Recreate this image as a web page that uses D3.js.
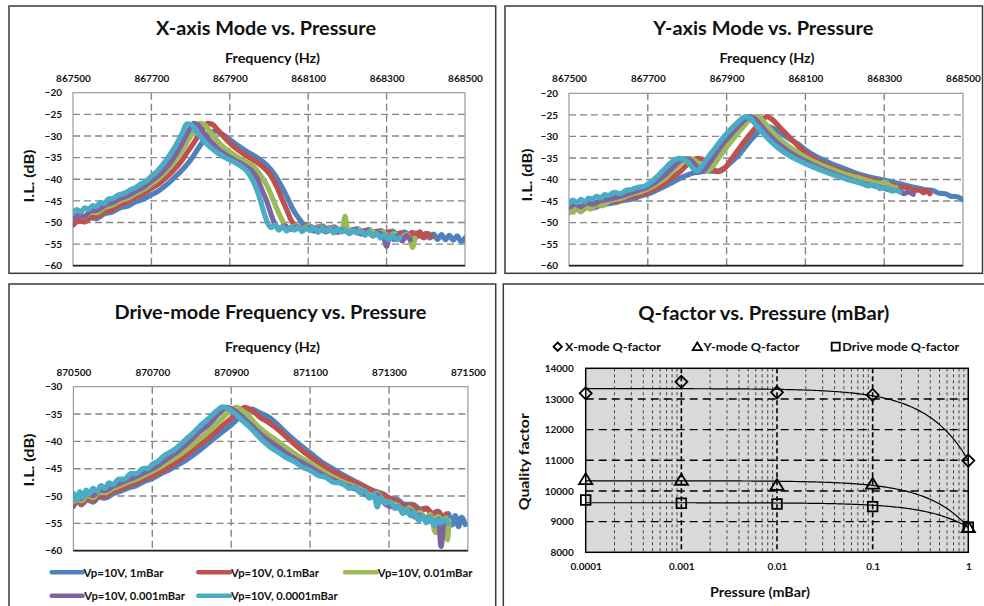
<!DOCTYPE html>
<html>
<head>
<meta charset="utf-8">
<script src="https://cdn.jsdelivr.net/npm/d3@7"></script>
<style>
  html, body { margin: 0; padding: 0; background: #ffffff; }
  svg { display: block; }
</style>
</head>
<body>
<svg id="fig" width="984" height="606"></svg>
<script>
// ---------------------------------------------------------------
// Series / labels shared by the three spectrum panels
// ---------------------------------------------------------------
const seriesNames  = ["Vp=10V, 1mBar", "Vp=10V, 0.1mBar", "Vp=10V, 0.01mBar", "Vp=10V, 0.001mBar", "Vp=10V, 0.0001mBar"];
const seriesColors = ["#4F81BD", "#C0504D", "#9BBB59", "#8064A2", "#4BACC6"];

const freqTicksXY    = [867500, 867700, 867900, 868100, 868300, 868500];
const freqTicksDrive = [870500, 870700, 870900, 871100, 871300, 871500];
const dbTicksXY      = [-20, -25, -30, -35, -40, -45, -50, -55, -60];
const dbTicksDrive   = [-30, -35, -40, -45, -50, -55, -60];

// ---------------------------------------------------------------
// X-axis mode sweeps: [frequency (Hz), insertion loss (dB)]
// ---------------------------------------------------------------
const xMode1mBar = [[867500,-50.0],[867515,-49.2],[867530,-49.8],[867545,-48.9],[867560,-49.1],[867580,-48.0],[867600,-47.6],[867620,-46.6],[867640,-46.2],[867660,-45.2],[867680,-44.6],[867700,-43.6],[867715,-42.9],[867730,-41.9],[867745,-40.8],[867760,-39.5],[867775,-38.2],[867790,-36.7],[867805,-34.9],[867820,-32.8],[867835,-30.8],[867848,-29.4],[867860,-28.9],[867875,-29.3],[867895,-30.5],[867920,-32.2],[867945,-33.7],[867970,-35.0],[867995,-36.8],[868015,-39.0],[868037,-42.5],[868050,-44.9],[868062,-47.1],[868079,-49.4],[868092,-50.8],[868105,-50.9],[868120,-51.5],[868135,-50.8],[868150,-51.6],[868165,-51.0],[868180,-51.8],[868195,-51.2],[868210,-52.1],[868225,-51.4],[868240,-52.3],[868255,-51.6],[868270,-52.6],[868285,-51.9],[868300,-52.5],[868315,-52.0],[868330,-52.9],[868345,-52.2],[868360,-53.1],[868375,-52.4],[868390,-53.3],[868400,-52.5],[868410,-53.6],[868420,-52.7],[868430,-53.9],[868440,-52.8],[868450,-54.0],[868460,-53.0],[868470,-54.1],[868480,-53.1],[868490,-54.4],[868500,-53.6]];
const xMode01mBar = [[867500,-50.6],[867515,-49.7],[867530,-49.9],[867545,-48.8],[867560,-48.6],[867580,-47.6],[867600,-47.0],[867620,-45.9],[867640,-45.2],[867660,-44.1],[867680,-43.3],[867700,-42.1],[867715,-41.3],[867730,-40.2],[867745,-39.0],[867760,-37.6],[867775,-36.0],[867790,-34.0],[867805,-32.0],[867820,-29.9],[867832,-28.3],[867843,-27.1],[867855,-27.3],[867870,-28.7],[867895,-31.2],[867920,-33.2],[867945,-34.7],[867968,-36.0],[867990,-37.6],[868005,-39.2],[868020,-41.8],[868034,-44.8],[868045,-47.0],[868055,-49.2],[868065,-50.6],[868080,-51.4],[868095,-50.8],[868110,-51.6],[868125,-51.0],[868140,-51.9],[868155,-51.2],[868170,-52.0],[868185,-51.4],[868200,-52.2],[868215,-51.6],[868230,-52.4],[868245,-51.8],[868260,-52.7],[868275,-52.0],[868290,-52.9],[868305,-52.2],[868320,-53.1],[868335,-52.4],[868350,-53.2],[868365,-52.3],[868375,-53.5],[868385,-52.2],[868395,-53.6],[868405,-52.6],[868415,-53.3]];
const xMode001mBar = [[867500,-49.1],[867515,-48.2],[867530,-48.7],[867545,-47.6],[867560,-47.8],[867580,-46.6],[867600,-46.0],[867620,-45.0],[867640,-44.4],[867660,-43.3],[867680,-42.4],[867700,-41.1],[867715,-40.1],[867730,-38.9],[867745,-37.4],[867760,-35.7],[867775,-33.8],[867790,-31.6],[867803,-29.6],[867814,-28.0],[867824,-27.1],[867834,-27.3],[867850,-29.1],[867875,-31.8],[867900,-33.7],[867925,-35.2],[867950,-36.4],[867968,-37.8],[867982,-39.6],[867995,-41.5],[868008,-44.2],[868020,-46.8],[868032,-49.2],[868042,-50.8],[868055,-51.3],[868070,-50.7],[868085,-51.5],[868100,-50.9],[868115,-51.7],[868130,-51.1],[868145,-51.9],[868160,-51.2],[868175,-52.1],[868188,-51.3],[868194,-48.6],[868200,-51.5],[868215,-52.2],[868230,-51.7],[868245,-52.5],[868260,-51.9],[868275,-52.8],[868290,-52.2],[868305,-53.2],[868320,-52.6],[868335,-53.5],[868350,-52.8],[868360,-53.9],[868366,-55.8],[868372,-53.6]];
const xMode0001mBar = [[867500,-49.4],[867515,-48.3],[867530,-48.6],[867545,-47.3],[867560,-47.2],[867580,-46.1],[867600,-45.4],[867620,-44.5],[867640,-43.8],[867660,-42.8],[867680,-41.8],[867700,-40.4],[867715,-39.4],[867730,-38.1],[867745,-36.5],[867760,-34.6],[867773,-32.6],[867786,-30.3],[867798,-28.3],[867808,-27.1],[867818,-27.4],[867835,-29.5],[867860,-32.1],[867885,-34.1],[867910,-35.5],[867935,-36.7],[867955,-38.0],[867970,-39.8],[867982,-42.5],[867994,-45.0],[868005,-48.0],[868015,-50.3],[868025,-51.3],[868040,-50.8],[868055,-51.6],[868070,-51.0],[868085,-51.8],[868100,-51.2],[868115,-52.0],[868130,-51.3],[868145,-52.2],[868160,-51.5],[868175,-52.3],[868190,-51.7],[868205,-52.4],[868220,-51.8],[868235,-52.7],[868250,-52.1],[868265,-53.0],[868280,-52.4],[868292,-53.3],[868300,-55.5],[868308,-53.2],[868320,-54.0],[868330,-52.9],[868340,-54.3],[868350,-53.1],[868360,-54.0]];
const xMode00001mBar = [[867500,-47.8],[867510,-47.0],[867520,-47.6],[867530,-46.6],[867540,-47.0],[867550,-46.1],[867560,-46.3],[867570,-45.4],[867580,-45.6],[867590,-44.6],[867600,-44.5],[867615,-43.7],[867630,-43.3],[867645,-42.5],[867660,-41.9],[867675,-41.0],[867690,-40.2],[867700,-39.3],[867712,-38.4],[867725,-37.1],[867740,-35.3],[867755,-33.3],[867768,-31.2],[867780,-29.1],[867790,-27.2],[867800,-27.3],[867815,-29.0],[867830,-30.7],[867850,-32.6],[867870,-34.0],[867890,-35.1],[867910,-36.0],[867930,-37.1],[867945,-38.3],[867958,-40.2],[867968,-42.2],[867977,-44.6],[867986,-47.4],[867995,-49.8],[868005,-51.2],[868015,-50.6],[868025,-51.8],[868035,-51.0],[868045,-52.0],[868055,-51.1],[868065,-51.8],[868075,-51.0],[868085,-52.1],[868095,-51.3],[868105,-51.9],[868115,-51.2],[868125,-52.3],[868135,-51.5],[868145,-52.0],[868155,-51.4],[868165,-52.4],[868175,-51.6],[868185,-52.2],[868195,-51.7],[868205,-52.6],[868215,-51.8],[868225,-52.5],[868235,-52.0],[868245,-53.0],[868255,-52.2],[868265,-53.2],[868275,-52.5],[868285,-53.6],[868295,-52.8],[868305,-53.9],[868315,-53.0],[868325,-54.0],[868334,-53.5]];

// ---------------------------------------------------------------
// Y-axis mode sweeps
// ---------------------------------------------------------------
const yMode1mBar = [[867500,-47.6],[867515,-46.8],[867530,-47.2],[867545,-46.4],[867560,-46.6],[867580,-46.0],[867600,-45.6],[867620,-45.3],[867640,-44.8],[867660,-44.6],[867680,-43.9],[867700,-43.4],[867720,-42.6],[867740,-41.7],[867760,-40.8],[867780,-39.8],[867800,-39.0],[867815,-38.5],[867830,-38.3],[867850,-38.0],[867870,-38.1],[867890,-37.6],[867910,-36.1],[867935,-33.9],[867960,-31.0],[867985,-28.7],[868005,-27.8],[868022,-28.3],[868040,-29.4],[868060,-30.6],[868080,-31.7],[868100,-33.1],[868130,-34.8],[868165,-36.3],[868196,-37.4],[868230,-38.6],[868265,-39.5],[868302,-40.2],[868340,-41.0],[868375,-41.8],[868408,-42.4],[868425,-42.6],[868440,-43.2],[868455,-43.3],[868470,-43.9],[868485,-44.0],[868500,-44.7]];
const yMode01mBar = [[867500,-47.4],[867515,-46.7],[867530,-47.3],[867545,-46.4],[867560,-46.2],[867580,-45.8],[867600,-45.2],[867620,-45.0],[867640,-44.4],[867660,-44.0],[867680,-43.6],[867700,-42.9],[867720,-42.1],[867740,-41.0],[867760,-39.7],[867780,-38.3],[867795,-37.0],[867810,-35.8],[867828,-35.1],[867845,-35.7],[867860,-37.2],[867879,-38.2],[867895,-37.4],[867915,-34.9],[867935,-32.4],[867955,-30.0],[867975,-27.8],[867990,-26.2],[868002,-25.4],[868015,-26.0],[868035,-27.9],[868060,-30.2],[868095,-33.4],[868130,-35.6],[868165,-37.1],[868196,-38.2],[868230,-39.2],[868265,-40.0],[868302,-40.8],[868340,-41.7],[868360,-41.9],[868375,-42.5],[868390,-42.4],[868400,-43.1],[868408,-42.6],[868416,-43.3]];
const yMode001mBar = [[867500,-46.9],[867510,-47.6],[867520,-46.5],[867530,-47.5],[867540,-46.2],[867555,-46.9],[867570,-45.8],[867585,-46.1],[867600,-45.1],[867620,-44.6],[867640,-44.1],[867660,-43.4],[867680,-42.9],[867700,-42.2],[867720,-41.2],[867740,-40.0],[867755,-38.8],[867770,-37.4],[867785,-36.2],[867797,-35.3],[867807,-35.1],[867820,-35.6],[867835,-37.0],[867849,-38.0],[867862,-37.2],[867880,-35.0],[867900,-32.5],[867920,-30.2],[867940,-28.0],[867958,-26.2],[867975,-25.4],[867988,-26.0],[868005,-27.8],[868025,-29.8],[868050,-31.8],[868080,-33.7],[868110,-35.3],[868140,-36.6],[868170,-37.7],[868200,-38.7],[868230,-39.5],[868260,-40.3],[868290,-40.9],[868302,-40.6],[868315,-41.5],[868330,-41.9]];
const yMode0001mBar = [[867500,-46.4],[867515,-45.7],[867530,-46.3],[867545,-45.4],[867560,-45.7],[867580,-44.9],[867600,-44.6],[867620,-44.1],[867640,-43.6],[867660,-43.0],[867680,-42.4],[867700,-41.7],[867720,-40.6],[867740,-39.2],[867760,-37.5],[867778,-35.9],[867794,-35.2],[867808,-35.5],[867820,-36.6],[867832,-37.8],[867840,-38.0],[867852,-36.8],[867870,-34.4],[867890,-31.8],[867910,-29.6],[867930,-27.6],[867946,-26.2],[867960,-25.4],[867972,-25.9],[867988,-27.6],[868005,-29.4],[868025,-31.2],[868050,-33.0],[868080,-34.8],[868110,-36.2],[868140,-37.5],[868170,-38.6],[868200,-39.6],[868230,-40.5],[868260,-41.2],[868290,-41.8],[868320,-42.5],[868340,-42.6],[868350,-43.3],[868360,-42.9],[868374,-43.4]];
const yMode00001mBar = [[867500,-45.6],[867510,-44.8],[867520,-45.4],[867530,-44.6],[867540,-45.2],[867550,-44.3],[867560,-44.6],[867570,-43.9],[867580,-44.3],[867590,-43.5],[867600,-43.7],[867615,-43.0],[867630,-43.3],[867645,-42.5],[867660,-42.3],[867675,-41.8],[867690,-41.6],[867700,-41.1],[867712,-40.3],[867725,-39.2],[867740,-37.8],[867755,-36.4],[867768,-35.4],[867778,-35.1],[867792,-35.3],[867805,-36.3],[867815,-37.4],[867824,-38.0],[867835,-37.2],[867850,-35.2],[867870,-32.8],[867890,-30.4],[867910,-28.4],[867930,-26.6],[867948,-25.4],[867960,-25.8],[867975,-27.4],[867990,-29.0],[868010,-31.0],[868030,-32.6],[868060,-34.5],[868090,-35.9],[868120,-37.1],[868150,-38.2],[868180,-39.2],[868210,-40.1],[868240,-40.8],[868260,-41.5],[868275,-41.2],[868290,-42.1],[868305,-41.8],[868320,-42.7],[868330,-42.4],[868340,-42.9]];

// ---------------------------------------------------------------
// Drive mode sweeps
// ---------------------------------------------------------------
const drive1mBar = [[870500,-51.9],[870510,-51.0],[870520,-51.6],[870535,-50.7],[870550,-51.1],[870565,-50.2],[870580,-50.4],[870600,-49.6],[870620,-49.1],[870640,-48.5],[870660,-48.1],[870680,-47.3],[870700,-46.8],[870720,-46.0],[870740,-45.3],[870760,-44.5],[870780,-43.7],[870800,-42.7],[870820,-41.6],[870846,-40.1],[870870,-38.7],[870900,-37.0],[870920,-35.7],[870938,-34.6],[870952,-34.1],[870973,-34.8],[870998,-35.7],[871020,-37.1],[871040,-38.5],[871070,-40.4],[871100,-42.1],[871130,-43.8],[871160,-45.1],[871190,-46.4],[871227,-47.8],[871260,-49.0],[871285,-49.6],[871303,-50.4],[871320,-50.6],[871340,-51.5],[871360,-51.5],[871379,-52.4],[871395,-52.2],[871410,-53.2],[871425,-52.8],[871440,-54.0],[871450,-53.2],[871460,-55.3],[871468,-53.6],[871476,-55.6],[871484,-53.9],[871493,-55.2]];
const drive01mBar = [[870500,-51.6],[870510,-50.7],[870520,-51.4],[870535,-50.4],[870550,-50.8],[870565,-49.8],[870580,-50.0],[870600,-49.1],[870620,-48.7],[870640,-48.0],[870660,-47.6],[870680,-46.9],[870700,-46.3],[870720,-45.6],[870740,-44.8],[870760,-43.9],[870787,-42.5],[870815,-40.9],[870846,-39.2],[870875,-37.3],[870900,-35.8],[870918,-34.6],[870935,-33.8],[870950,-34.2],[870973,-35.6],[870998,-36.7],[871020,-37.9],[871040,-39.2],[871070,-41.1],[871100,-42.8],[871130,-44.3],[871160,-45.6],[871190,-46.7],[871227,-47.9],[871260,-49.1],[871285,-49.8],[871303,-50.5],[871320,-50.9],[871340,-51.8],[871360,-51.7],[871379,-52.7],[871395,-52.3],[871410,-53.4],[871422,-52.8],[871434,-54.0],[871445,-53.3]];
const drive001mBar = [[870500,-51.0],[870510,-50.3],[870520,-50.9],[870535,-49.9],[870550,-50.3],[870565,-49.3],[870580,-49.4],[870600,-48.6],[870620,-48.1],[870640,-47.4],[870660,-46.9],[870680,-46.2],[870700,-45.5],[870720,-44.7],[870740,-43.8],[870760,-42.9],[870787,-41.5],[870815,-39.9],[870846,-38.0],[870870,-36.3],[870890,-34.9],[870905,-34.0],[870914,-33.8],[870925,-34.2],[870940,-35.0],[870958,-36.5],[870973,-37.6],[870998,-39.0],[871020,-40.1],[871040,-41.2],[871070,-42.7],[871100,-44.0],[871130,-45.4],[871160,-46.6],[871190,-47.6],[871227,-48.7],[871255,-49.9],[871270,-49.5],[871285,-50.8],[871303,-51.3],[871320,-51.6],[871340,-52.6],[871352,-52.1],[871365,-53.3],[871379,-53.0],[871392,-54.0],[871405,-53.4],[871418,-56.7],[871424,-53.7],[871436,-54.6],[871444,-54.0],[871448,-58.0],[871452,-54.5]];
const drive0001mBar = [[870500,-50.6],[870510,-49.9],[870520,-50.5],[870535,-49.5],[870550,-49.9],[870565,-48.9],[870580,-49.0],[870600,-48.2],[870620,-47.6],[870640,-47.0],[870660,-46.4],[870680,-45.7],[870700,-45.0],[870720,-44.1],[870740,-43.1],[870760,-42.1],[870787,-40.5],[870815,-38.6],[870846,-36.7],[870865,-35.2],[870880,-34.2],[870890,-33.8],[870902,-34.1],[870914,-34.7],[870940,-36.3],[870973,-38.6],[870998,-40.0],[871020,-41.1],[871040,-42.2],[871070,-43.5],[871100,-44.7],[871130,-46.0],[871160,-47.1],[871190,-48.0],[871227,-49.1],[871255,-50.2],[871270,-49.8],[871285,-51.1],[871303,-51.9],[871320,-52.0],[871340,-53.0],[871352,-52.6],[871365,-53.8],[871379,-53.5],[871392,-54.4],[871405,-53.8],[871416,-55.0],[871425,-54.2],[871432,-59.2],[871438,-54.8]];
const drive00001mBar = [[870500,-49.5],[870508,-50.8],[870516,-49.2],[870524,-50.3],[870532,-48.9],[870540,-49.6],[870550,-48.6],[870560,-49.1],[870570,-48.1],[870580,-48.6],[870590,-47.6],[870600,-47.9],[870615,-46.9],[870630,-46.9],[870645,-45.9],[870660,-45.9],[870675,-45.0],[870690,-44.9],[870700,-44.2],[870715,-43.6],[870730,-42.6],[870745,-42.0],[870760,-41.3],[870775,-40.3],[870787,-39.5],[870800,-38.7],[870815,-37.6],[870830,-36.6],[870846,-35.6],[870860,-34.6],[870870,-34.0],[870878,-33.7],[870890,-33.9],[870902,-34.5],[870914,-35.2],[870930,-36.3],[870948,-37.5],[870973,-39.4],[870998,-41.0],[871020,-42.0],[871040,-43.0],[871060,-43.7],[871080,-44.7],[871100,-45.3],[871120,-46.2],[871140,-46.6],[871160,-47.5],[871180,-47.6],[871200,-48.6],[871215,-48.3],[871227,-49.4],[871240,-49.0],[871250,-50.4],[871262,-49.7],[871270,-52.0],[871278,-50.3],[871290,-51.3],[871303,-51.0],[871315,-52.3],[871325,-51.8],[871335,-53.2],[871345,-52.4],[871355,-53.6],[871365,-52.9],[871375,-54.5],[871385,-53.6],[871395,-54.9],[871405,-53.8],[871415,-55.4],[871422,-54.2],[871430,-55.0],[871440,-54.3],[871450,-55.0]];

// ---------------------------------------------------------------
// Quality factor vs. pressure
// ---------------------------------------------------------------
const pressures      = [0.0001, 0.001, 0.01, 0.1, 1];
const pressureLabels = ["0.0001", "0.001", "0.01", "0.1", "1"];
const qXMode = [13185, 13560, 13215, 13130, 10990];
const qYMode = [10380, 10360, 10195, 10230, 8815];
const qDrive = [9705, 9600, 9575, 9490, 8815];
const qTicks = [8000, 9000, 10000, 11000, 12000, 13000, 14000];
const qSeriesNames = ["X-mode Q-factor", "Y-mode Q-factor", "Drive mode Q-factor"];

// ---------------------------------------------------------------
const FONT = "Lato, 'Noto Sans', 'DejaVu Sans', sans-serif";
const svg = d3.select("#fig").attr("font-family", FONT);

function panelFrame(x0, y0, x1, y1) {
  svg.append("rect")
    .attr("x", x0).attr("y", y0).attr("width", x1 - x0).attr("height", y1 - y0)
    .attr("fill", "#ffffff").attr("stroke", "#3a3a3a").attr("stroke-width", 1.5);
}

function boldText(str, cx, cy, size, width, rotate) {
  const t = svg.append("text")
    .attr("x", cx).attr("y", cy)
    .attr("text-anchor", "middle").attr("dominant-baseline", "central")
    .attr("font-size", size).attr("font-weight", 700).attr("fill", "#111")
    .text(str);
  if (width) t.attr("textLength", width).attr("lengthAdjust", "spacingAndGlyphs");
  if (rotate) t.attr("transform", `rotate(-90 ${cx} ${cy})`);
  return t;
}

// Frames of the four panels
panelFrame(9, 6, 495.7, 273.3);
panelFrame(505, 6, 982.5, 273.3);
panelFrame(9, 284, 495.7, 612);
panelFrame(503.3, 284, 990, 612);

// ---------------------------------------------------------------
// Spectrum panel (frequency on a top axis, I.L. on the left)
// ---------------------------------------------------------------
function spectrumPanel(cfg) {
  const x = d3.scaleLinear()
    .domain([cfg.fTicks[0], cfg.fTicks[cfg.fTicks.length - 1]])
    .range([cfg.left, cfg.right]);
  const y = d3.scaleLinear()
    .domain([cfg.dbTicks[cfg.dbTicks.length - 1], cfg.dbTicks[0]])
    .range([cfg.bottom, cfg.top]);

  const g = svg.append("g");

  // dashed grid
  const grid = g.append("g").attr("stroke", "#858585").attr("stroke-width", 1.4)
    .attr("stroke-dasharray", "7,4");
  cfg.fTicks.slice(1, -1).forEach(f => {
    grid.append("line").attr("x1", x(f)).attr("x2", x(f)).attr("y1", cfg.top).attr("y2", cfg.bottom);
  });
  cfg.dbTicks.slice(1, -1).forEach(v => {
    grid.append("line").attr("x1", cfg.left).attr("x2", cfg.right).attr("y1", y(v)).attr("y2", y(v));
  });

  // plot border
  g.append("rect").attr("x", cfg.left).attr("y", cfg.top)
    .attr("width", cfg.right - cfg.left).attr("height", cfg.bottom - cfg.top)
    .attr("fill", "none").attr("stroke", "#9a9a9a").attr("stroke-width", 1.2);
  g.append("line").attr("x1", cfg.left).attr("x2", cfg.right)
    .attr("y1", cfg.bottom).attr("y2", cfg.bottom)
    .attr("stroke", "#222").attr("stroke-width", 1.8);

  // traces
  const clipId = "clip-" + cfg.id;
  g.append("clipPath").attr("id", clipId).append("rect")
    .attr("x", cfg.left).attr("y", cfg.top - 3)
    .attr("width", cfg.right - cfg.left).attr("height", cfg.bottom - cfg.top + 3);
  const line = d3.line().x(d => x(d[0])).y(d => y(d[1])).curve(d3.curveMonotoneX);
  const traces = g.append("g").attr("clip-path", `url(#${clipId})`);
  cfg.traces.forEach((tr, i) => {
    traces.append("path").datum(tr)
      .attr("d", line)
      .attr("fill", "none")
      .attr("stroke", seriesColors[i])
      .attr("stroke-width", 5.2)
      .attr("stroke-linejoin", "round")
      .attr("stroke-linecap", "round");
  });

  // axes
  const xAxis = d3.axisTop(x).tickValues(cfg.fTicks).tickSize(0).tickPadding(11).tickFormat(d3.format("d"));
  const ax = g.append("g").attr("transform", `translate(0,${cfg.top})`).call(xAxis);
  ax.select(".domain").remove();
  ax.selectAll("text").attr("font-size", 10).attr("font-weight", 700)
    .attr("fill", "#111").attr("font-family", FONT);

  const yAxis = d3.axisLeft(y).tickValues(cfg.dbTicks).tickSize(0).tickPadding(11);
  const ay = g.append("g").attr("transform", `translate(${cfg.left},0)`).call(yAxis);
  ay.select(".domain").remove();
  ay.selectAll("text").attr("font-size", 10).attr("font-weight", 700)
    .attr("fill", "#111").attr("font-family", FONT);

  // titles
  boldText(cfg.title, cfg.titleX, cfg.titleY, 18, cfg.titleW);
  boldText("Frequency (Hz)", cfg.fLabelX, cfg.fLabelY, 13, 95);
  boldText("I.L. (dB)", cfg.yLabelX, cfg.yLabelY, 14, 53, true);
}

spectrumPanel({
  id: "x", title: "X-axis Mode vs. Pressure", titleX: 266, titleY: 27.5, titleW: 220,
  fLabelX: 272.5, fLabelY: 57.5, yLabelX: 28.5, yLabelY: 176,
  left: 73, right: 465, top: 92.7, bottom: 265.7,
  fTicks: freqTicksXY, dbTicks: dbTicksXY,
  traces: [xMode1mBar, xMode01mBar, xMode001mBar, xMode0001mBar, xMode00001mBar]
});

spectrumPanel({
  id: "y", title: "Y-axis Mode vs. Pressure", titleX: 763.3, titleY: 27.5, titleW: 220,
  fLabelX: 767, fLabelY: 57.5, yLabelX: 526.7, yLabelY: 175,
  left: 569, right: 963, top: 93.3, bottom: 265.7,
  fTicks: freqTicksXY, dbTicks: dbTicksXY,
  traces: [yMode1mBar, yMode01mBar, yMode001mBar, yMode0001mBar, yMode00001mBar]
});

spectrumPanel({
  id: "d", title: "Drive-mode Frequency vs. Pressure", titleX: 270.5, titleY: 312.3, titleW: 312,
  fLabelX: 272.5, fLabelY: 346.7, yLabelX: 28.5, yLabelY: 460,
  left: 73.4, right: 467.9, top: 386.7, bottom: 550.7,
  fTicks: freqTicksDrive, dbTicks: dbTicksDrive,
  traces: [drive1mBar, drive01mBar, drive001mBar, drive0001mBar, drive00001mBar]
});

// legend for the spectrum series (below the drive-mode panel)
const legendSpots = [
  { x0: 51.7, x1: 82.7, tx: 83.5, y: 572.3, w: 80 },
  { x0: 198.3, x1: 230, tx: 231, y: 572.3, w: 88 },
  { x0: 345, x1: 376.7, tx: 377.7, y: 572.3, w: 94.7 },
  { x0: 51.7, x1: 82.7, tx: 84.3, y: 595.7, w: 100.7 },
  { x0: 198.3, x1: 230, tx: 231, y: 595.7, w: 106.7 }
];
seriesNames.forEach((name, i) => {
  const s = legendSpots[i];
  svg.append("line").attr("x1", s.x0).attr("x2", s.x1).attr("y1", s.y).attr("y2", s.y)
    .attr("stroke", seriesColors[i]).attr("stroke-width", 4.4).attr("stroke-linecap", "round");
  svg.append("text").attr("x", s.tx).attr("y", s.y)
    .attr("dominant-baseline", "central").attr("font-size", 11).attr("font-weight", 700)
    .attr("fill", "#111").attr("textLength", s.w).attr("lengthAdjust", "spacingAndGlyphs")
    .text(name);
});

// ---------------------------------------------------------------
// Q-factor panel
// ---------------------------------------------------------------
(function qPanel() {
  const L = 585.7, R = 968.3, T = 368.3, B = 552.3;
  const x = d3.scaleLog().domain([pressures[0], pressures[pressures.length - 1]]).range([L, R]);
  const y = d3.scaleLinear().domain([qTicks[0], qTicks[qTicks.length - 1]]).range([B, T]);
  const g = svg.append("g");

  g.append("rect").attr("x", L).attr("y", T).attr("width", R - L).attr("height", B - T)
    .attr("fill", "#d9d9d9");

  // minor log grid
  const minor = [];
  pressures.slice(0, -1).forEach(p => { for (let m = 2; m <= 9; m++) minor.push(p * m); });
  minor.forEach(p => {
    g.append("line").attr("x1", x(p)).attr("x2", x(p)).attr("y1", T).attr("y2", B)
      .attr("stroke", "#1a1a1a").attr("stroke-width", 0.8).attr("stroke-dasharray", "3,3");
  });
  // decade grid
  pressures.slice(1, -1).forEach(p => {
    g.append("line").attr("x1", x(p)).attr("x2", x(p)).attr("y1", T).attr("y2", B)
      .attr("stroke", "#000").attr("stroke-width", 1.6).attr("stroke-dasharray", "5,3");
  });
  qTicks.slice(1, -1).forEach(v => {
    g.append("line").attr("x1", L).attr("x2", R).attr("y1", y(v)).attr("y2", y(v))
      .attr("stroke", "#000").attr("stroke-width", 1.4).attr("stroke-dasharray", "8,5");
  });
  g.append("rect").attr("x", L).attr("y", T).attr("width", R - L).attr("height", B - T)
    .attr("fill", "none").attr("stroke", "#000").attr("stroke-width", 1.5);

  // linear least-squares trend Q = a + b·P for each series
  function linearFit(q) {
    const mx = d3.mean(pressures), my = d3.mean(q);
    let sxy = 0, sxx = 0;
    pressures.forEach((p, i) => { sxy += (p - mx) * (q[i] - my); sxx += (p - mx) * (p - mx); });
    const b = sxy / sxx;
    return { a: my - b * mx, b };
  }
  const sampleP = d3.range(-4, 0.0001, 0.02).map(e => Math.pow(10, e));
  const fitLine = d3.line().x(d => x(d[0])).y(d => y(d[1]));
  [qXMode, qYMode, qDrive].forEach(q => {
    const f = linearFit(q);
    g.append("path").datum(sampleP.map(p => [p, f.a + f.b * p]))
      .attr("d", fitLine).attr("fill", "none").attr("stroke", "#000").attr("stroke-width", 1.2);
  });

  // markers
  const diamond = r => `M0,${-r}L${r},0L0,${r}L${-r},0Z`;
  const triangle = r => `M0,${-r}L${r * 1.1},${r * 0.8}L${-r * 1.1},${r * 0.8}Z`;
  const square = r => `M${-r},${-r}H${r}V${r}H${-r}Z`;
  const shapes = [diamond(6), triangle(6), square(4.8)];
  [qXMode, qYMode, qDrive].forEach((q, k) => {
    q.forEach((v, i) => {
      g.append("path").attr("d", shapes[k])
        .attr("transform", `translate(${x(pressures[i])},${y(v)})`)
        .attr("fill", "none").attr("stroke", "#000").attr("stroke-width", 1.8);
    });
  });

  // axes
  const ax = g.append("g").attr("transform", `translate(0,${B})`)
    .call(d3.axisBottom(x).tickValues(pressures).tickSize(0).tickPadding(11)
      .tickFormat((d, i) => pressureLabels[i]));
  ax.select(".domain").remove();
  ax.selectAll("text").attr("font-size", 10).attr("font-weight", 700).attr("fill", "#111")
    .attr("font-family", FONT);
  const ay = g.append("g").attr("transform", `translate(${L},0)`)
    .call(d3.axisLeft(y).tickValues(qTicks).tickSize(0).tickPadding(12).tickFormat(d3.format("d")));
  ay.select(".domain").remove();
  ay.selectAll("text").attr("font-size", 10).attr("font-weight", 700).attr("fill", "#111")
    .attr("font-family", FONT);

  boldText("Q-factor vs. Pressure (mBar)", 763.8, 313.3, 18, 251);
  boldText("Quality factor", 523.3, 461.7, 14, 97, true);
  boldText("Pressure (mBar)", 760, 592.3, 13.5, 100);

  // legend
  const legendItems = [
    { mx: 557.7, tx: 565, w: 96, shape: diamond(4.2) },
    { mx: 697.3, tx: 703.5, w: 96, shape: triangle(4.2) },
    { mx: 835.7, tx: 842.3, w: 117, shape: square(4) }
  ];
  qSeriesNames.forEach((name, k) => {
    const it = legendItems[k];
    g.append("path").attr("d", it.shape).attr("transform", `translate(${it.mx},346.7)`)
      .attr("fill", "none").attr("stroke", "#000").attr("stroke-width", 1.8);
    g.append("text").attr("x", it.tx).attr("y", 346.7).attr("dominant-baseline", "central")
      .attr("font-size", 11.5).attr("font-weight", 700).attr("fill", "#111")
      .attr("textLength", it.w).attr("lengthAdjust", "spacingAndGlyphs").text(name);
  });
})();
</script>
</body>
</html>
